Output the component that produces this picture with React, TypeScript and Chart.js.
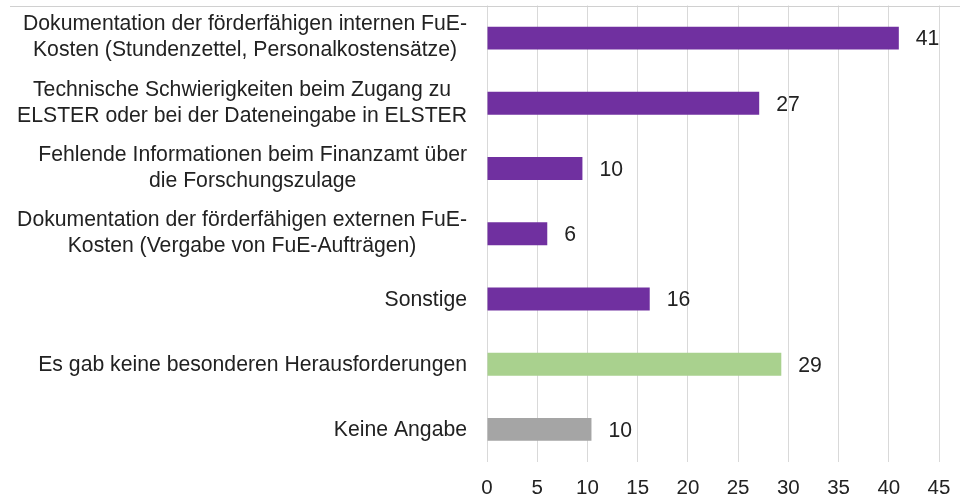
import React, { useEffect, useRef } from "react";
import { Chart, registerables } from "chart.js";

Chart.register(...registerables);

const categories: string[][] = [
  ["Dokumentation der förderfähigen internen FuE-", "Kosten (Stundenzettel, Personalkostensätze)"],
  ["Technische Schwierigkeiten beim Zugang zu", "ELSTER oder bei der Dateneingabe in ELSTER"],
  ["Fehlende Informationen beim Finanzamt über", "die Forschungszulage"],
  ["Dokumentation der förderfähigen externen FuE-", "Kosten (Vergabe von FuE-Aufträgen)"],
  ["Sonstige"],
  ["Es gab keine besonderen Herausforderungen"],
  ["Keine Angabe"],
];

const values: number[] = [41.0, 27.1, 9.5, 6.0, 16.2, 29.3, 10.4];
const valueLabels: string[] = ["41", "27", "10", "6", "16", "29", "10"];
const barColors: string[] = ["#7030A0", "#7030A0", "#7030A0", "#7030A0", "#7030A0", "#A9D18E", "#A5A5A5"];

const FONT_FAMILY = "'Liberation Sans', Arial, sans-serif";
const FONT_SIZE = 21.2;
const LINE_H = 26;
const TEXT_COLOR = "#222222";
const LABEL_RIGHT = 467;

const textPlugin = {
  id: "customText",
  afterDatasetsDraw(chart: any) {
    const ctx: CanvasRenderingContext2D = chart.ctx;
    const yScale = chart.scales.y;
    const meta = chart.getDatasetMeta(0);
    ctx.save();
    // top border line
    ctx.strokeStyle = "#D0D0D0";
    ctx.lineWidth = 1;
    ctx.beginPath();
    ctx.moveTo(10, 6.5);
    ctx.lineTo(chart.width, 6.5);
    ctx.stroke();

    ctx.font = `${FONT_SIZE}px ${FONT_FAMILY}`;
    ctx.fillStyle = TEXT_COLOR;
    ctx.textBaseline = "middle";
    // category labels: block right-aligned, lines centered
    categories.forEach((lines, i) => {
      const cy = yScale.getPixelForValue(i);
      const w = Math.max(...lines.map((l) => ctx.measureText(l).width));
      const cx = LABEL_RIGHT - w / 2;
      const n = lines.length;
      const first = cy - ((n - 1) * LINE_H) / 2 - (n > 1 ? 1.5 : 0);
      ctx.textAlign = "center";
      lines.forEach((l, j) => {
        ctx.fillText(l, cx, first + j * LINE_H + 1);
      });
    });
    // data labels
    ctx.textAlign = "left";
    meta.data.forEach((bar: any, i: number) => {
      ctx.fillText(valueLabels[i], bar.x + 17, bar.y + 1.5);
    });
    ctx.restore();
  },
};

export default function App() {
  const ref = useRef<HTMLCanvasElement>(null);
  useEffect(() => {
    document.body.style.margin = "0";
    const chart = new Chart(ref.current!, {
      type: "bar",
      data: {
        labels: categories,
        datasets: [
          {
            data: values,
            backgroundColor: barColors,
            borderWidth: 0,
            barPercentage: 0.352,
            categoryPercentage: 1,
          },
        ],
      },
      options: {
        indexAxis: "y",
        animation: false,
        responsive: false,
        devicePixelRatio: 1,
        layout: { padding: { left: 487, right: 21, top: 5.5, bottom: 0 } },
        plugins: { legend: { display: false }, tooltip: { enabled: false } },
        scales: {
          x: {
            min: 0,
            max: 45,
            afterFit: (s: any) => {
              s.height = 35;
              s.paddingLeft = 0;
              s.paddingRight = 0;
            },
            ticks: {
              stepSize: 5,
              padding: 14,
              color: TEXT_COLOR,
              font: { family: FONT_FAMILY, size: 20.5 },
            },
            grid: { color: "#D9D9D9", lineWidth: 1, drawTicks: false },
            border: { display: false },
          },
          y: {
            display: false,
          },
        },
      },
      plugins: [textPlugin],
    });
    return () => chart.destroy();
  }, []);
  return (
    <div style={{ position: "absolute", left: 0, top: 0, width: 960, height: 497, background: "#fff" }}>
      <canvas ref={ref} width={960} height={497} />
    </div>
  );
}
